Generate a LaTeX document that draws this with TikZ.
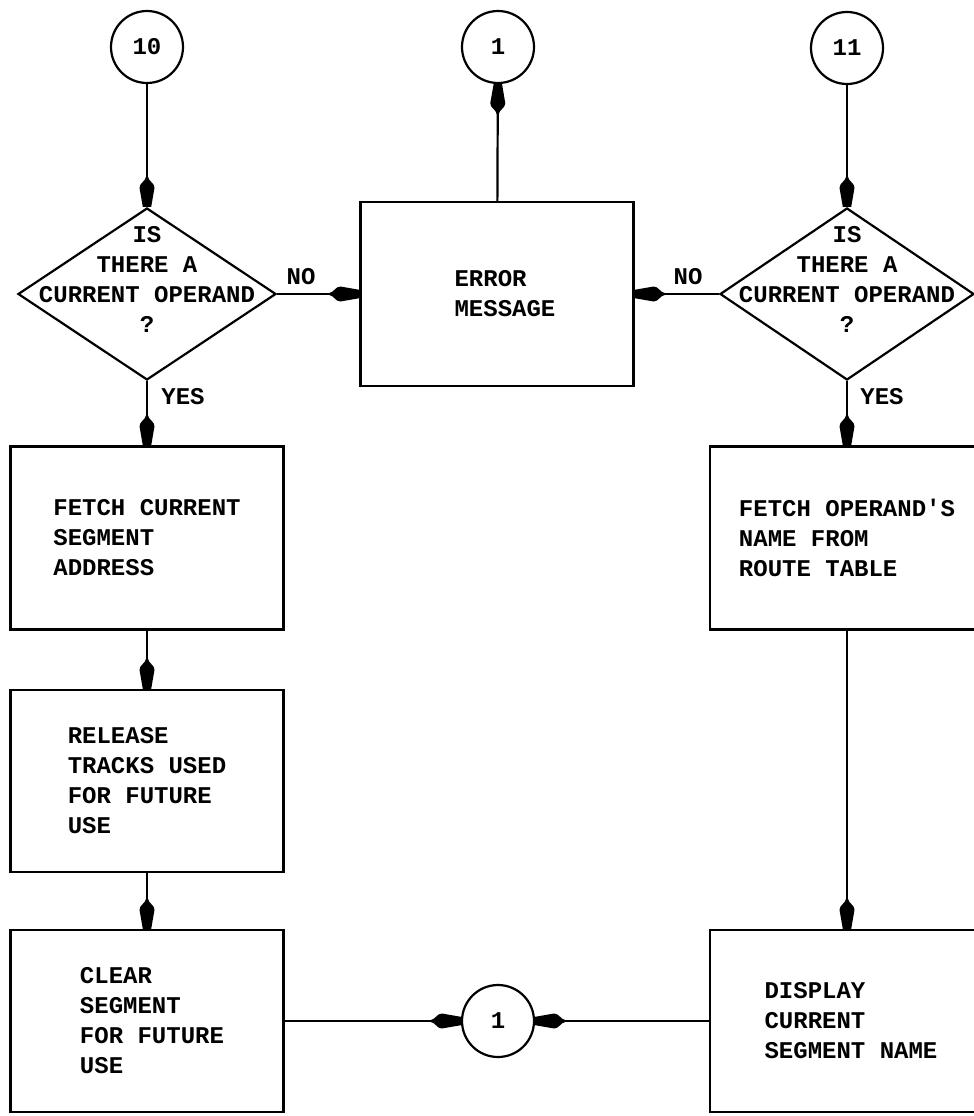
\documentclass[tikz,border=0pt]{standalone}
\usepackage{fontspec}
\newfontfamily\twfont{Liberation Mono}
\usetikzlibrary{arrows.meta,shapes.geometric}
\pgfdeclarearrow{
  name=Spindle,
  setup code={
    \pgfarrowssettipend{0pt}
    \pgfarrowssetlineend{-18pt}
    \pgfarrowssetbackend{-29pt}
    \pgfarrowssetvisualbackend{-29pt}
    \pgfarrowshullpoint{0pt}{4.5pt}
    \pgfarrowshullpoint{0pt}{-4.5pt}
    \pgfarrowshullpoint{-29pt}{7.5pt}
    \pgfarrowshullpoint{-29pt}{-7.5pt}
  },
  drawing code={
    \pgfpathmoveto{\pgfqpoint{-30pt}{1pt}}
    \pgfpathcurveto{\pgfqpoint{-25pt}{2pt}}{\pgfqpoint{-24pt}{7.5pt}}{\pgfqpoint{-19pt}{7.5pt}}
    \pgfpathlineto{\pgfqpoint{0pt}{4.2pt}}
    \pgfpathlineto{\pgfqpoint{0pt}{-4.2pt}}
    \pgfpathlineto{\pgfqpoint{-19pt}{-7.5pt}}
    \pgfpathcurveto{\pgfqpoint{-24pt}{-7.5pt}}{\pgfqpoint{-25pt}{-2pt}}{\pgfqpoint{-30pt}{-1pt}}
    \pgfpathclose
    \pgfusepathqfill
  }
}
\begin{document}
\begin{tikzpicture}[x=1pt,y=-1pt,
  every node/.style={font=\twfont\bfseries\fontsize{24}{30}\selectfont, inner sep=0pt},
  conn/.style={draw, circle, line width=2.2pt, minimum size=72pt},
  procbox/.style={draw, rectangle, line width=2.2pt, align=left},
  decide/.style={draw, diamond, line width=2.2pt},
  dtext/.style={align=center, font=\twfont\bfseries\fontsize{24}{30}\selectfont, yshift=15pt},
  flow/.style={line width=2.2pt, -Spindle},
  lbl/.style={}
]
\useasboundingbox (0,0) rectangle (974,1116);
\fill[white] (0,0) rectangle (974,1116);

% connectors (circles)
\node[conn] (c10) at (147,47) {10};
\node[conn] (c1top) at (498,47) {1};
\node[conn] (c11) at (847,48) {11};
\node[conn] (c1bot) at (498,1021) {1};

% decisions
\node[decide, minimum width=258pt, minimum height=172pt,
  label={[dtext]center:IS\\THERE A\\CURRENT OPERAND\\?}] (d1) at (147,294) {};
\node[decide, minimum width=254pt, minimum height=172pt,
  label={[dtext]center:IS\\THERE A\\CURRENT OPERAND\\?}] (d2) at (847,294) {};

% process boxes
\node[procbox, minimum width=273pt, minimum height=184pt] (err) at (497,294) {\hspace*{16pt}ERROR\\\hspace*{16pt}MESSAGE};
\node[procbox, minimum width=273pt, minimum height=183pt] (fcs) at (147,538) {FETCH CURRENT\\SEGMENT\\ADDRESS};
\node[procbox, minimum width=273pt, minimum height=182pt] (rel) at (147,781) {RELEASE\\TRACKS USED\\FOR FUTURE\\USE};
\node[procbox, minimum width=273pt, minimum height=182pt] (clr) at (147,1021) {\hspace*{10pt}CLEAR\\\hspace*{10pt}SEGMENT\\\hspace*{10pt}FOR FUTURE\\\hspace*{10pt}USE};
\node[procbox, minimum width=274pt, minimum height=183pt] (fon) at (847,538) {FETCH OPERAND'S\\NAME FROM\\ROUTE TABLE};
\node[procbox, minimum width=274pt, minimum height=182pt] (dsp) at (847,1021) {\hspace*{8pt}DISPLAY\\\hspace*{8pt}CURRENT\\\hspace*{8pt}SEGMENT NAME};

% labels
\node[lbl] (no1) at (301,277) {NO};
\node[lbl] (no2) at (688,277) {NO};
\node[lbl] (yes1) at (183,397) {YES};
\node[lbl] (yes2) at (882,397) {YES};

% flow lines
\draw[flow] (c10) -- (d1);
\draw[flow] (c11) -- (d2);
\draw[flow] (d1) -- (err);
\draw[flow] (d2) -- (err);
\draw[flow] (err) -- (c1top);
\draw[flow] (d1) -- (fcs);
\draw[flow] (fcs) -- (rel);
\draw[flow] (rel) -- (clr);
\draw[flow] (d2) -- (fon);
\draw[flow] (fon) -- (dsp);
\draw[flow] (clr) -- (c1bot);
\draw[flow] (dsp) -- (c1bot);
\end{tikzpicture}
\end{document}
